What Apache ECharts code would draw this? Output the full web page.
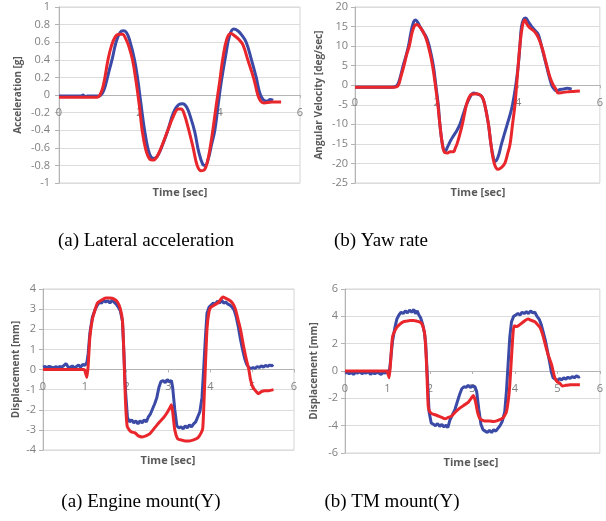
<!DOCTYPE html>
<html>
<head>
<meta charset="utf-8">
<script src="https://cdn.jsdelivr.net/npm/echarts@6/dist/echarts.min.js"></script>
<style>
  html, body { margin: 0; padding: 0; background: #fff; }
  #main { width: 606px; height: 521px; }
</style>
</head>
<body>
<div id="main"></div>
<script>
// [time (sec), value] pairs
const latBlue = [[0,-0.01],[0.55,-0.01],[0.6,0.0],[0.65,-0.02],[0.7,-0.01],[1.0,-0.01],[1.08,0.02],[1.15,0.1],[1.25,0.28],[1.33,0.42],[1.42,0.6],[1.52,0.71],[1.6,0.73],[1.68,0.71],[1.76,0.62],[1.88,0.4],[1.96,0.18],[2.04,-0.1],[2.13,-0.4],[2.22,-0.62],[2.3,-0.71],[2.38,-0.72],[2.48,-0.67],[2.6,-0.54],[2.71,-0.4],[2.85,-0.2],[2.98,-0.11],[3.08,-0.1],[3.18,-0.14],[3.28,-0.26],[3.38,-0.42],[3.48,-0.65],[3.58,-0.79],[3.64,-0.8],[3.72,-0.72],[3.8,-0.56],[3.88,-0.4],[3.96,-0.12],[4.04,0.15],[4.15,0.45],[4.25,0.68],[4.35,0.75],[4.45,0.73],[4.55,0.68],[4.66,0.6],[4.78,0.42],[4.91,0.2],[5.0,0.02],[5.08,-0.05],[5.18,-0.07],[5.26,-0.05],[5.33,-0.06]];
const latRed = [[0,-0.025],[0.95,-0.025],[1.02,0.0],[1.1,0.1],[1.22,0.4],[1.3,0.55],[1.4,0.66],[1.5,0.69],[1.58,0.69],[1.66,0.64],[1.74,0.55],[1.83,0.4],[1.92,0.15],[2.0,-0.12],[2.07,-0.4],[2.16,-0.62],[2.26,-0.73],[2.34,-0.74],[2.44,-0.7],[2.56,-0.58],[2.71,-0.4],[2.85,-0.24],[2.97,-0.16],[3.04,-0.16],[3.12,-0.22],[3.22,-0.38],[3.34,-0.6],[3.44,-0.8],[3.54,-0.86],[3.62,-0.85],[3.7,-0.75],[3.78,-0.55],[3.83,-0.4],[3.92,-0.1],[4.0,0.15],[4.08,0.42],[4.18,0.64],[4.28,0.7],[4.38,0.67],[4.48,0.63],[4.58,0.57],[4.7,0.4],[4.8,0.26],[4.87,0.15],[4.95,0.0],[5.02,-0.07],[5.1,-0.09],[5.3,-0.08],[5.53,-0.08]];

const yawBlue = [[0,-0.5],[0.9,-0.5],[1.0,-0.3],[1.06,0.5],[1.12,2.5],[1.18,5],[1.25,7.5],[1.31,10],[1.38,14],[1.44,16.3],[1.48,16.7],[1.53,16.2],[1.59,15],[1.68,13.5],[1.76,12],[1.82,10],[1.92,5],[1.98,0],[2.04,-5],[2.08,-10],[2.14,-15],[2.2,-17],[2.28,-15.5],[2.35,-14],[2.41,-13],[2.5,-11.5],[2.57,-10],[2.65,-7.5],[2.73,-5],[2.82,-3],[2.9,-2],[3.0,-2.3],[3.1,-2.8],[3.18,-5],[3.27,-10],[3.33,-15],[3.38,-18],[3.43,-19.5],[3.5,-18.5],[3.59,-15],[3.66,-12.5],[3.73,-10],[3.8,-7.5],[3.86,-5],[3.94,0],[4.0,5],[4.04,10],[4.08,15],[4.13,16.8],[4.18,17.2],[4.25,16.2],[4.33,15],[4.41,14],[4.49,13],[4.57,10],[4.69,5],[4.82,0],[4.88,-1],[4.94,-1.5],[5.02,-1.1],[5.1,-1],[5.2,-0.8],[5.31,-1]];
const yawRed = [[0,-0.5],[0.95,-0.5],[1.05,-0.2],[1.12,2],[1.2,5],[1.27,8],[1.33,10],[1.4,13.5],[1.46,15.2],[1.51,15.5],[1.58,15],[1.66,13.8],[1.74,12],[1.82,9],[1.9,5],[1.97,0],[2.03,-5],[2.08,-10],[2.14,-15],[2.2,-17.2],[2.27,-17.3],[2.33,-17],[2.41,-17],[2.46,-16],[2.5,-15],[2.57,-12.5],[2.63,-10],[2.68,-7.5],[2.73,-5],[2.8,-3],[2.86,-2.3],[2.98,-2.2],[3.08,-2.6],[3.14,-3.5],[3.2,-6],[3.27,-10],[3.33,-15],[3.38,-18.5],[3.44,-20.8],[3.51,-21.5],[3.59,-21],[3.67,-20],[3.74,-17.5],[3.8,-15],[3.86,-10],[3.92,-5],[3.96,0],[4.04,10],[4.1,15],[4.16,16.7],[4.22,15.5],[4.3,14.5],[4.37,14],[4.45,13],[4.52,11.5],[4.6,9],[4.7,5],[4.78,2],[4.86,0],[4.92,-1],[4.98,-2],[5.05,-1.9],[5.2,-1.7],[5.35,-1.6],[5.51,-1.5]];

const engBlue = [[0,0.12],[0.05,0.15],[0.1,0.1],[0.15,0.16],[0.2,0.12],[0.25,0.08],[0.3,0.14],[0.35,0.1],[0.4,0.15],[0.45,0.12],[0.5,0.2],[0.55,0.3],[0.6,0.12],[0.65,0.1],[0.7,0.18],[0.75,0.08],[0.8,0.15],[0.85,0.22],[0.9,0.12],[0.95,0.25],[1.0,0.2],[1.05,0.35],[1.08,0.8],[1.12,1.8],[1.18,2.6],[1.25,3.0],[1.3,3.2],[1.35,3.35],[1.4,3.3],[1.45,3.45],[1.5,3.35],[1.55,3.42],[1.6,3.3],[1.65,3.45],[1.7,3.35],[1.75,3.25],[1.8,3.1],[1.85,2.9],[1.9,2.4],[1.93,1.0],[1.97,-1.0],[2.02,-2.4],[2.07,-2.6],[2.12,-2.5],[2.17,-2.65],[2.22,-2.55],[2.27,-2.7],[2.32,-2.55],[2.37,-2.65],[2.42,-2.5],[2.47,-2.6],[2.52,-2.35],[2.57,-2.2],[2.62,-1.95],[2.67,-1.7],[2.72,-1.4],[2.77,-0.9],[2.82,-0.6],[2.87,-0.55],[2.92,-0.65],[2.97,-0.5],[3.02,-0.6],[3.07,-0.55],[3.1,-0.9],[3.15,-2.0],[3.2,-2.8],[3.25,-2.9],[3.3,-2.85],[3.35,-2.95],[3.4,-2.8],[3.45,-2.9],[3.5,-2.75],[3.55,-2.85],[3.6,-2.7],[3.65,-2.6],[3.7,-2.35],[3.75,-2.1],[3.8,-1.4],[3.84,0.0],[3.88,1.5],[3.92,2.8],[3.97,3.1],[4.02,3.2],[4.07,3.3],[4.12,3.25],[4.17,3.4],[4.22,3.3],[4.27,3.45],[4.32,3.3],[4.37,3.35],[4.42,3.25],[4.47,3.2],[4.52,3.1],[4.57,2.95],[4.62,2.6],[4.67,2.1],[4.72,1.5],[4.77,1.0],[4.82,0.55],[4.87,0.25],[4.92,0.1],[4.97,0.05],[5.02,0.1],[5.07,0.05],[5.12,0.15],[5.17,0.1],[5.22,0.18],[5.27,0.12],[5.32,0.2],[5.37,0.15],[5.42,0.22],[5.47,0.18],[5.5,0.25]];
const engRed = [[0,0.0],[0.98,0.0],[1.02,-0.2],[1.05,-0.4],[1.08,0.2],[1.12,1.6],[1.18,2.5],[1.25,3.0],[1.3,3.3],[1.4,3.45],[1.5,3.55],[1.6,3.55],[1.7,3.5],[1.78,3.35],[1.85,3.0],[1.9,2.4],[1.93,1.0],[1.97,-1.5],[2.01,-2.8],[2.06,-3.0],[2.11,-3.1],[2.2,-3.15],[2.28,-3.3],[2.37,-3.35],[2.46,-3.3],[2.55,-3.2],[2.65,-2.95],[2.79,-2.6],[2.88,-2.4],[2.95,-2.2],[3.02,-1.95],[3.07,-1.75],[3.1,-2.1],[3.15,-3.0],[3.22,-3.45],[3.3,-3.5],[3.4,-3.55],[3.5,-3.55],[3.6,-3.5],[3.7,-3.4],[3.78,-3.15],[3.82,-2.9],[3.86,-1.0],[3.92,2.0],[3.97,2.9],[4.02,3.1],[4.1,3.2],[4.2,3.35],[4.3,3.6],[4.36,3.55],[4.45,3.45],[4.53,3.3],[4.6,3.0],[4.66,2.5],[4.72,2.0],[4.8,1.1],[4.86,0.5],[4.92,0.0],[4.96,-0.5],[5.02,-0.9],[5.1,-1.1],[5.15,-1.2],[5.22,-1.1],[5.3,-1.05],[5.4,-1.05],[5.51,-1.0]];

const tmBlue = [[0,-0.15],[0.05,-0.1],[0.1,-0.2],[0.15,-0.1],[0.2,-0.25],[0.25,-0.1],[0.3,-0.15],[0.35,-0.05],[0.4,-0.2],[0.45,-0.1],[0.5,-0.15],[0.55,-0.05],[0.6,-0.25],[0.65,-0.1],[0.7,-0.2],[0.75,-0.1],[0.8,-0.15],[0.85,-0.25],[0.9,-0.1],[0.95,-0.15],[1.0,-0.05],[1.05,0.1],[1.08,1.0],[1.12,2.2],[1.17,3.1],[1.22,3.8],[1.27,4.1],[1.32,4.3],[1.37,4.2],[1.42,4.4],[1.47,4.25],[1.52,4.45],[1.57,4.3],[1.62,4.5],[1.66,4.2],[1.7,4.4],[1.74,4.1],[1.78,3.9],[1.83,3.4],[1.87,2.8],[1.9,2.0],[1.94,-0.5],[1.98,-3.0],[2.03,-3.8],[2.08,-3.9],[2.13,-4.0],[2.18,-3.85],[2.23,-4.05],[2.28,-3.9],[2.33,-4.1],[2.38,-3.95],[2.42,-4.15],[2.47,-3.6],[2.53,-3.2],[2.59,-2.8],[2.65,-2.2],[2.7,-1.7],[2.75,-1.3],[2.8,-1.15],[2.85,-1.2],[2.9,-1.05],[2.95,-1.2],[3.0,-1.1],[3.06,-1.15],[3.1,-1.5],[3.15,-2.8],[3.2,-3.9],[3.25,-4.3],[3.3,-4.4],[3.35,-4.5],[3.4,-4.35],[3.45,-4.5],[3.5,-4.3],[3.55,-4.4],[3.6,-4.2],[3.65,-4.0],[3.7,-3.7],[3.76,-3.0],[3.8,-1.5],[3.84,0.5],[3.88,2.5],[3.92,3.6],[3.97,4.0],[4.02,4.1],[4.07,4.2],[4.12,4.1],[4.17,4.3],[4.22,4.2],[4.27,4.35],[4.32,4.2],[4.37,4.4],[4.42,4.25],[4.47,4.3],[4.52,4.0],[4.57,3.8],[4.62,3.4],[4.67,2.8],[4.72,2.2],[4.77,1.4],[4.82,0.6],[4.86,-0.1],[4.9,-0.5],[4.95,-0.6],[5.0,-0.7],[5.05,-0.55],[5.1,-0.65],[5.15,-0.5],[5.2,-0.6],[5.25,-0.45],[5.3,-0.55],[5.35,-0.4],[5.4,-0.5],[5.45,-0.35],[5.5,-0.45],[5.53,-0.4]];
const tmRed = [[0,0.0],[0.98,0.0],[1.02,-0.3],[1.04,-0.5],[1.07,0.5],[1.12,2.5],[1.22,3.2],[1.3,3.45],[1.37,3.6],[1.45,3.65],[1.53,3.7],[1.62,3.7],[1.69,3.65],[1.75,3.6],[1.8,3.5],[1.85,3.1],[1.88,2.6],[1.92,0.5],[1.96,-2.6],[2.0,-3.0],[2.06,-3.15],[2.12,-3.2],[2.2,-3.3],[2.28,-3.4],[2.35,-3.5],[2.43,-3.4],[2.51,-3.3],[2.6,-3.0],[2.71,-2.7],[2.8,-2.5],[2.9,-2.3],[2.97,-2.0],[3.02,-1.8],[3.07,-2.2],[3.12,-3.0],[3.18,-3.5],[3.29,-3.65],[3.4,-3.65],[3.5,-3.7],[3.57,-3.65],[3.69,-3.5],[3.75,-3.3],[3.8,-3.0],[3.85,-2.0],[3.88,-1.0],[3.93,1.5],[3.98,3.3],[4.04,3.25],[4.1,3.35],[4.16,3.5],[4.24,3.7],[4.31,3.8],[4.39,3.7],[4.47,3.6],[4.53,3.4],[4.59,3.2],[4.65,2.7],[4.71,2.0],[4.78,1.2],[4.86,0.5],[4.94,-0.5],[5.0,-0.8],[5.06,-0.9],[5.12,-1.1],[5.2,-1.05],[5.3,-1.0],[5.4,-1.0],[5.53,-1.0]];

const yNames = ["Acceleration [g]", "Angular Velocity [deg/sec]", "Displacement [mm]", "Displacement [mm]"];
const captions = ["(a) Lateral acceleration", "(b) Yaw rate", "(a) Engine mount(Y)", "(b) TM mount(Y)"];

const BLUE = "#3a4aa6";
const RED = "#e8262b";

let chartDom = document.getElementById("main");
let myChart = echarts.init(chartDom);
let option;

const grids = [
  { left: 59, top: 7, width: 241, height: 176 },
  { left: 355, top: 7, width: 245, height: 176 },
  { left: 43, top: 289, width: 251, height: 161 },
  { left: 345, top: 289, width: 255, height: 164 },
];
const yRanges = [
  { min: -1, max: 1, interval: 0.2, gap: 36, margin: 9 },
  { min: -25, max: 20, interval: 5, gap: 31, margin: 7 },
  { min: -4, max: 4, interval: 1, gap: 22, margin: 7 },
  { min: -6, max: 6, interval: 2, gap: 26, margin: 7 },
];
const xSteps = [2, 2, 1, 1];

// the time axis sits on the zero line: shift it up from the grid bottom
function zeroOffset(i) {
  let r = yRanges[i];
  return -grids[i].height * (0 - r.min) / (r.max - r.min);
}

function makeX(i) {
  return {
    type: "value",
    gridIndex: i,
    position: "bottom",
    offset: zeroOffset(i),
    min: 0,
    max: 6,
    interval: xSteps[i],
    axisLine: { onZero: false, lineStyle: { color: "#b4b4b4", width: 1 } },
    axisTick: { show: true, length: 3, lineStyle: { color: "#b4b4b4" } },
    axisLabel: { color: "#808080", fontSize: 11, margin: 12, fontFamily: "Open Sans" },
    splitLine: { show: false },
  };
}
function makeY(i) {
  let r = yRanges[i];
  return {
    type: "value",
    gridIndex: i,
    min: r.min,
    max: r.max,
    interval: r.interval,
    name: yNames[i],
    nameLocation: "middle",
    nameRotate: 90,
    nameGap: r.gap,
    nameMoveOverlap: false,
    nameTextStyle: { color: "#595959", fontSize: 10, fontWeight: "bold", fontFamily: "Open Sans" },
    axisLine: { show: true, onZero: false, lineStyle: { color: "#b4b4b4" } },
    axisTick: { show: true, length: 4, lineStyle: { color: "#b4b4b4" } },
    axisLabel: { color: "#808080", fontSize: 11, margin: r.margin, fontFamily: "Open Sans" },
    splitLine: { show: true, lineStyle: { color: "#dcdcdc" } },
  };
}
function makeLine(data, color, i, smooth) {
  return {
    type: "line",
    xAxisIndex: i,
    yAxisIndex: i,
    data: data,
    symbol: "none",
    smooth: smooth,
    lineStyle: { color: color, width: 3 },
    itemStyle: { color: color },
  };
}

const xTitlePos = [[180, 193], [478, 193], [168, 461], [471, 463]];
const capPos = [[146, 241], [381, 241], [141, 502], [392, 502]];

let graphics = [];
xTitlePos.forEach(function (p) {
  graphics.push({
    type: "text", x: p[0], y: p[1],
    style: { text: "Time [sec]", fill: "#595959", font: "bold 11px 'Open Sans'", textAlign: "center", textVerticalAlign: "middle" },
  });
});
capPos.forEach(function (p, i) {
  graphics.push({
    type: "text", x: p[0], y: p[1],
    style: { text: captions[i], fill: "#000", font: "19px 'Liberation Serif'", textAlign: "center", textVerticalAlign: "middle" },
  });
});

option = {
  animation: false,
  backgroundColor: "#fff",
  grid: grids.map(function (g) {
    return Object.assign({ show: true, borderColor: "#d4d4d4", borderWidth: 1, containLabel: false }, g);
  }),
  xAxis: [0, 1, 2, 3].map(makeX),
  yAxis: [0, 1, 2, 3].map(makeY),
  series: [
    makeLine(latBlue, BLUE, 0, 0.4),
    makeLine(latRed, RED, 0, 0.4),
    makeLine(yawBlue, BLUE, 1, 0.4),
    makeLine(yawRed, RED, 1, 0.4),
    makeLine(engBlue, BLUE, 2, false),
    makeLine(engRed, RED, 2, 0.2),
    makeLine(tmBlue, BLUE, 3, false),
    makeLine(tmRed, RED, 3, 0.2),
  ],
  graphic: graphics,
};

option && myChart.setOption(option);
</script>
</body>
</html>
